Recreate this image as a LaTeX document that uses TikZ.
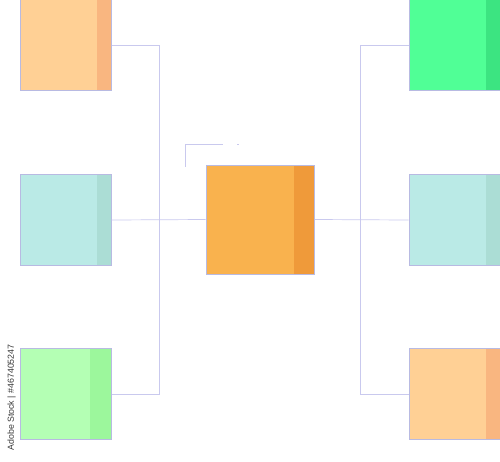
\documentclass[tikz,border=0pt]{standalone}
\usepackage{fontspec}
\newfontfamily\wmfont{Liberation Sans}
\definecolor{peach}{HTML}{FFD095}
\definecolor{peachS}{HTML}{F9B680}
\definecolor{cyanL}{HTML}{BAEAE6}
\definecolor{cyanS}{HTML}{ABDDD5}
\definecolor{greenB}{HTML}{50FF96}
\definecolor{greenBS}{HTML}{3CE481}
\definecolor{greenL}{HTML}{B4FFB4}
\definecolor{greenLS}{HTML}{9CF79C}
\definecolor{orangeC}{HTML}{F9B24E}
\definecolor{orangeCS}{HTML}{EF9A3A}
\definecolor{edgeC}{HTML}{B8BAE2}
\definecolor{lineC}{HTML}{C9C9EE}
\begin{document}
\begin{tikzpicture}[x=1pt,y=1pt,
  box/.style n args={3}{rectangle, inner sep=0pt, minimum width=90.5pt, minimum height=90.5pt,
    fill=#1, draw=edgeC, line width=0.7pt,
    path picture={\fill[#2] ([xshift=-#3]path picture bounding box.north east) rectangle (path picture bounding box.south east);}},
  conn/.style={draw=lineC, line width=0.7pt}]
\useasboundingbox (0,0) rectangle (500,-461);
\node[box={peach}{peachS}{14.5pt}] (tl) at (66,-45) {};
\node[box={cyanL}{cyanS}{14.5pt}] (ml) at (66,-220) {};
\node[box={greenL}{greenLS}{21pt}] (bl) at (66,-394) {};
\node[box={greenB}{greenBS}{14.5pt}, minimum width=91pt] (tr) at (454.5,-45) {};
\node[box={cyanL}{cyanS}{14.5pt}, minimum width=91pt] (mr) at (454.5,-220) {};
\node[box={peach}{peachS}{14.5pt}, minimum width=91pt] (br) at (454.5,-394) {};
\node[box={orangeC}{orangeCS}{20.5pt}, minimum width=108.5pt, minimum height=109pt] (c) at (260.2,-219.5) {};
\draw[conn] (tl.east) -- ++(48,0) |- (bl.east);
\draw[conn] (tr.west) -- ++(-48,0) |- (br.west);
\draw[conn] (ml.east) -- (c.west);
\draw[conn] (c.east) -- (mr.west);
\coordinate (b1) at (185,-166.7);
\coordinate (b2) at (185,-144.3);
\coordinate (b3) at (222.7,-144.3);
\draw[conn] (b1) -- (b2) -- (b3);
\coordinate (d1) at (237,-144.3);
\coordinate (d2) at (239,-144.3);
\draw[conn] (d1) -- (d2);
\node[rotate=90, text=black!78, font=\wmfont\fontsize{8.8}{8.8}\selectfont, inner sep=0pt] (wm) at (11.5,-397.5) {Adobe Stock | \#467405247};
\end{tikzpicture}
\end{document}
